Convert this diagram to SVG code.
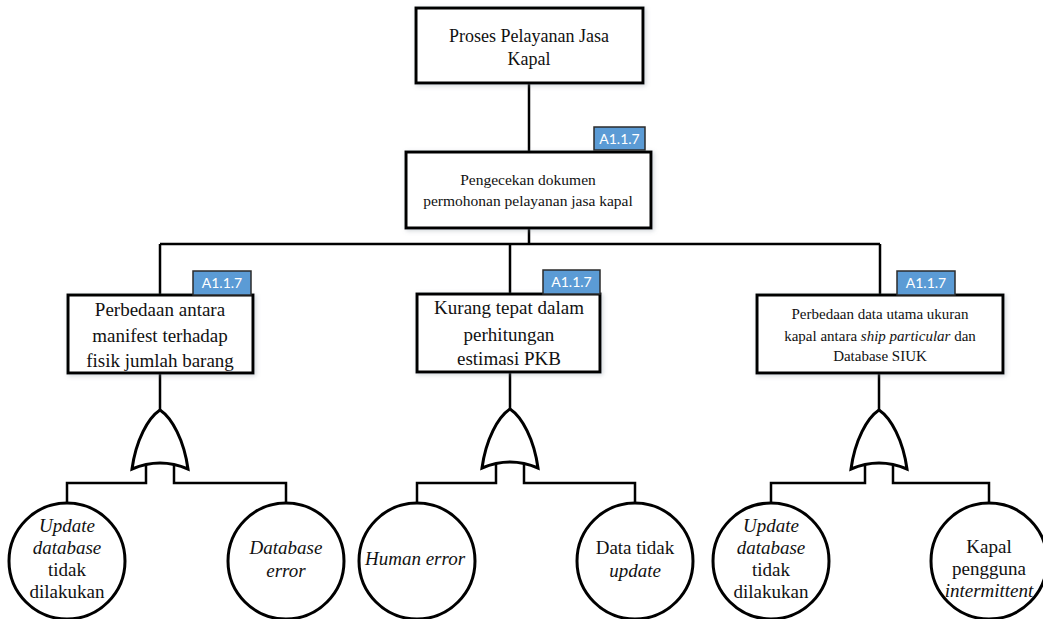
<svg xmlns="http://www.w3.org/2000/svg" width="1043" height="619" viewBox="0 0 1043 619">
  <defs>
    <filter id="soft" x="-10%" y="-20%" width="120%" height="140%">
      <feDropShadow dx="1.5" dy="1.5" stdDeviation="2" flood-color="#7f8c99" flood-opacity="0.35"/>
    </filter>
  </defs>
  <style>
    .box { fill: #ffffff; stroke: #000000; stroke-width: 3; filter: url(#soft); }
    .evt { fill: #ffffff; stroke: #000000; stroke-width: 3; }
    .gate { fill: #ffffff; stroke: #000000; stroke-width: 3; stroke-linejoin: miter; }
    .wire { fill: none; stroke: #000000; stroke-width: 2.5; }
    .tag { fill: #5b9bd5; stroke: #2b2b2b; stroke-width: 1.5; }
    .tagt { font-family: Lato, "Open Sans", sans-serif; font-size: 14px; fill: #ffffff; text-anchor: middle; }
    .t { font-family: "Liberation Serif", "Times New Roman", serif; fill: #111111; text-anchor: middle; }
    .i { font-style: italic; }
  </style>

  <!-- connectors -->
  <g id="connectors">
    <path class="wire" d="M529,83 V152"/>
    <path class="wire" d="M529,228 V244 M160,244 H880 M160,244 V295 M510,244 V294 M880,244 V295"/>
    <!-- gate stems -->
    <path class="wire" d="M160,373 V410 M510,372 V409 M879,373 V410"/>
    <!-- gate inputs to basic events -->
    <path class="wire" d="M146,463 V483 H67 V503 M174,463 V483 H286 V503"/>
    <path class="wire" d="M496,462 V483 H417 V503 M524,462 V483 H635 V503"/>
    <path class="wire" d="M865,463 V483 H771 V503 M893,463 V483 H989 V503"/>
  </g>

  <!-- top event -->
  <g id="top">
    <rect class="box" x="416" y="8" width="227" height="75"/>
    <text class="t" x="529" y="42" font-size="18">Proses Pelayanan Jasa</text>
    <text class="t" x="529" y="65" font-size="18">Kapal</text>
  </g>

  <!-- intermediate event -->
  <g id="check">
    <rect class="box" x="406" y="152" width="245" height="76"/>
    <rect class="tag" x="594" y="127" width="51" height="23"/>
    <text class="tagt" x="619.5" y="144">A1.1.7</text>
    <text class="t" x="528" y="185" font-size="15.5">Pengecekan dokumen</text>
    <text class="t" x="528" y="206" font-size="15.5">permohonan pelayanan jasa kapal</text>
  </g>

  <g id="manifest">
    <rect class="box" x="68" y="295" width="185" height="78"/>
    <rect class="tag" x="193" y="271" width="58" height="24"/>
    <text class="tagt" x="222" y="288">A1.1.7</text>
    <text class="t" x="160" y="316" font-size="19">Perbedaan antara</text>
    <text class="t" x="160" y="342" font-size="19">manifest terhadap</text>
    <text class="t" x="160" y="367" font-size="19">fisik jumlah barang</text>
  </g>

  <g id="pkb">
    <rect class="box" x="417" y="294" width="183" height="78"/>
    <rect class="tag" x="543" y="270" width="57" height="24"/>
    <text class="tagt" x="571.5" y="287">A1.1.7</text>
    <text class="t" x="509" y="314" font-size="19">Kurang tepat dalam</text>
    <text class="t" x="509" y="341" font-size="19">perhitungan</text>
    <text class="t" x="509" y="365" font-size="19">estimasi PKB</text>
  </g>

  <g id="siuk">
    <rect class="box" x="757" y="295" width="246" height="78"/>
    <rect class="tag" x="897" y="271" width="58" height="24"/>
    <text class="tagt" x="926" y="288">A1.1.7</text>
    <text class="t" x="880" y="319" font-size="15">Perbedaan data utama ukuran</text>
    <text class="t" x="880" y="341" font-size="15">kapal antara <tspan class="i">ship particular</tspan> dan</text>
    <text class="t" x="880" y="361" font-size="15">Database SIUK</text>
  </g>

  <!-- OR gates -->
  <g id="gate-manifest">
    <path class="gate" d="M160,410 C148,418 136,440 132,469 Q160,457 188,469 C184,440 172,418 160,410 Z"/>
  </g>
  <g id="gate-pkb">
    <path class="gate" d="M510,409 C498,417 486,439 482,468 Q510,456 538,468 C534,439 522,417 510,409 Z"/>
  </g>
  <g id="gate-siuk">
    <path class="gate" d="M879,410 C867,418 855,440 851,469 Q879,457 907,469 C903,440 891,418 879,410 Z"/>
  </g>

  <!-- basic events -->
  <g id="update-db-1">
    <circle class="evt" cx="67" cy="561" r="58"/>
    <text class="t i" x="67" y="532" font-size="19">Update</text>
    <text class="t i" x="67" y="554" font-size="19">database</text>
    <text class="t" x="67" y="576" font-size="19">tidak</text>
    <text class="t" x="67" y="598" font-size="19">dilakukan</text>
  </g>
  <g id="db-error">
    <circle class="evt" cx="286" cy="561" r="58"/>
    <text class="t i" x="286" y="554" font-size="19">Database</text>
    <text class="t i" x="286" y="577" font-size="19">error</text>
  </g>
  <g id="human-error">
    <circle class="evt" cx="417" cy="561" r="58"/>
    <text class="t i" x="415" y="565" font-size="19">Human error</text>
  </g>
  <g id="data-not-updated">
    <circle class="evt" cx="635" cy="561" r="58"/>
    <text class="t" x="635" y="554" font-size="19">Data tidak</text>
    <text class="t i" x="635" y="577" font-size="19">update</text>
  </g>
  <g id="update-db-2">
    <circle class="evt" cx="771" cy="561" r="58"/>
    <text class="t i" x="771" y="532" font-size="19">Update</text>
    <text class="t i" x="771" y="554" font-size="19">database</text>
    <text class="t" x="771" y="576" font-size="19">tidak</text>
    <text class="t" x="771" y="598" font-size="19">dilakukan</text>
  </g>
  <g id="intermittent">
    <circle class="evt" cx="989" cy="561" r="58"/>
    <text class="t" x="989" y="553" font-size="19">Kapal</text>
    <text class="t" x="989" y="575" font-size="19">pengguna</text>
    <text class="t i" x="989" y="597" font-size="19">intermittent</text>
  </g>
</svg>
